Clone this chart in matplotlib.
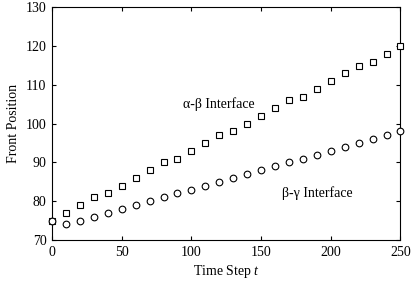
import matplotlib
matplotlib.use('Agg')
import matplotlib.pyplot as plt
import numpy as np

matplotlib.rcParams['font.family'] = 'serif'
matplotlib.rcParams['font.serif'] = ['Liberation Serif', 'DejaVu Serif']
matplotlib.rcParams['mathtext.fontset'] = 'custom'
matplotlib.rcParams['mathtext.it'] = 'Liberation Serif:italic'
matplotlib.rcParams['font.size'] = 10

# time steps and front positions
time_step = [0, 10, 20, 30, 40, 50, 60, 70, 80, 90, 100, 110, 120,
             130, 140, 150, 160, 170, 180, 190, 200, 210, 220, 230, 240, 250]
alpha_beta = [75, 77, 79, 81, 82, 84, 86, 88, 90, 91, 93, 95, 97,
              98, 100, 102, 104, 106, 107, 109, 111, 113, 115, 116, 118, 120]
beta_gamma = [75, 74, 75, 76, 77, 78, 79, 80, 81, 82, 83, 84, 85,
              86, 87, 88, 89, 90, 91, 92, 93, 94, 95, 96, 97, 98]

x_ticks = [0, 50, 100, 150, 200, 250]
y_ticks = [70, 80, 90, 100, 110, 120, 130]

fig = plt.figure(figsize=(4.17, 2.85), dpi=100)
ax = fig.add_axes([0.1247, 0.158, 0.8357, 0.8157])

ax.plot(time_step, alpha_beta, linestyle='none', marker='s', markersize=4.2,
        markerfacecolor='white', markeredgecolor='black', markeredgewidth=0.8,
        clip_on=False, zorder=3)
ax.plot(time_step, beta_gamma, linestyle='none', marker='o', markersize=4.8,
        markerfacecolor='white', markeredgecolor='black', markeredgewidth=0.8,
        clip_on=False, zorder=3)

# curve labels (upright greek like the original)
ax.text(120, 105, 'α-β Interface', ha='center', va='center', fontsize=10)
ax.text(190, 82, 'β-γ Interface', ha='center', va='center', fontsize=10)

ax.set_xlim(0, 250)
ax.set_ylim(70, 130)
ax.set_xticks(x_ticks)
ax.set_yticks(y_ticks)
ax.tick_params(direction='in', top=True, right=True, length=3, width=0.8, pad=4, labelsize=10)
for s in ax.spines.values():
    s.set_linewidth(0.8)

ax.set_xlabel('Time Step $t$', fontsize=10, labelpad=3)
ax.set_ylabel('Front Position', fontsize=10, labelpad=4)

plt.savefig('out.png', dpi=100)
